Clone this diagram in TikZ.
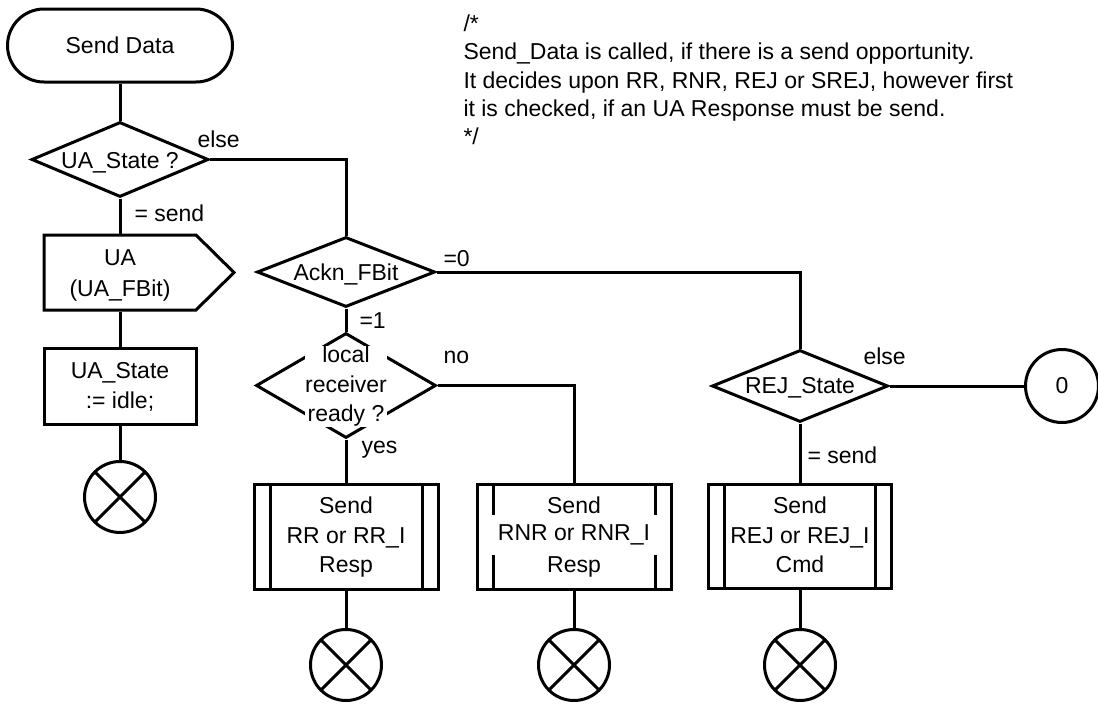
\documentclass[tikz,border=0pt]{standalone}
\usepackage{fontspec}
\setmainfont{Liberation Sans}
\usetikzlibrary{shapes.geometric,shapes.misc}
\begin{document}
\begin{tikzpicture}[x=1pt,y=-1pt,line width=3pt,
  every node/.style={font=\fontsize{23}{29.5}\selectfont},
  term/.style={rounded rectangle,draw,minimum width=225pt,minimum height=73pt,inner sep=0pt},
  dec/.style={diamond,draw,inner sep=0pt},
  proc/.style={rectangle,draw,inner sep=0pt},
  subr/.style={rectangle,draw,inner sep=0pt,
    path picture={\draw[line width=3pt]
      ([xshift=16pt]path picture bounding box.north west) -- ([xshift=16pt]path picture bounding box.south west)
      ([xshift=-16pt]path picture bounding box.north east) -- ([xshift=-16pt]path picture bounding box.south east);}},
  endc/.style={circle,draw,minimum size=71pt,inner sep=0pt,
    path picture={\draw[line width=3pt]
      (path picture bounding box.north west) -- (path picture bounding box.south east)
      (path picture bounding box.north east) -- (path picture bounding box.south west);}},
  conn/.style={circle,draw,minimum size=73pt,inner sep=0pt},
  txt/.style={inner sep=0pt,anchor=base},
  lbl/.style={inner sep=0pt,anchor=base west},
  cut/.style={fill=white,inner sep=0pt,align=center}
]
\useasboundingbox (0,0) rectangle (1098,704);

% start
\node[term] (start) at (120,45.5) {Send Data};

% UA_State decision
\node[dec,minimum width=177pt,minimum height=75pt] (d1) at (120,159.5) {};
\node[txt] (t1) at (120,168) {UA\_State ?};

% UA output signal
\node[minimum width=152pt,minimum height=75pt,inner sep=0pt] (ua) at (120,272.5) {};
\draw (44,235) -- (196,235) -- (234,272.5) -- (196,310) -- (44,310) -- cycle;
\node[txt] (t2) at (120,265) {UA};
\node[txt] (t3) at (120,296) {(UA\_FBit)};

% UA_State := idle
\node[proc,minimum width=152pt,minimum height=76pt] (b1) at (120,386) {};
\node[txt] (t4) at (120,378) {UA\_State};
\node[txt] (t5) at (120,408) {:= idle;};

\node[endc] (e1) at (120,497) {};

% Ackn_FBit decision
\node[dec,minimum width=178pt,minimum height=70pt] (d2) at (346,272) {};
\node[txt] (t6) at (346,280) {Ackn\_FBit};

% local receiver ready
\node[dec,minimum width=180pt,minimum height=105pt] (d3) at (346,385.5) {};
\node[cut] (t7) at (346,386.5) {local\\receiver\\ready ?};

% REJ_State decision
\node[dec,minimum width=176pt,minimum height=72pt] (d4) at (800,386) {};
\node[txt] (t8) at (800,393) {REJ\_State};

\node[conn] (c0) at (1062,386) {0};

% procedure calls
\node[subr,minimum width=184pt,minimum height=105pt] (rr) at (346,536.5) {};
\node[txt] (r1) at (346,513) {Send};
\node[txt] (r2) at (346,543) {RR or RR\_I};
\node[txt] (r3) at (346,572) {Resp};

\node[subr,minimum width=194pt,minimum height=105pt] (rnr) at (574,536.5) {};
\node[txt] (n1) at (574,513) {Send};
\node[fill=white,inner xsep=8pt,inner ysep=0pt,minimum height=40pt] (n2) at (574,535) {RNR or RNR\_I};
\node[txt] (n3) at (574,572) {Resp};

\node[subr,minimum width=183pt,minimum height=104pt] (rej) at (800,536) {};
\node[txt] (j1) at (800,513) {Send};
\node[txt] (j2) at (800,543) {REJ or REJ\_I};
\node[txt] (j3) at (800,572) {Cmd};

\node[endc] (e2) at (346,665) {};
\node[endc] (e3) at (574,665) {};
\node[endc] (e4) at (800,665) {};

% connectors
\draw (start.south) -- (d1.north);
\draw (d1.south) -- (ua.north);
\draw (ua.south) -- (b1.north);
\draw (b1.south) -- (e1.north);
\draw (d1.east) -| (d2.north);
\draw (d2.south) -- (d3.north);
\draw (d2.east) -| (d4.north);
\draw (d3.south) -- (rr.north);
\draw (d3.east) -| (rnr.north);
\draw (d4.east) -- (c0.west);
\draw (d4.south) -- (rej.north);
\draw (rr.south) -- (e2.north);
\draw (rnr.south) -- (e3.north);
\draw (rej.south) -- (e4.north);

% redraw local receiver text on top of connectors
\node[cut] at (346,386.5) {local\\receiver\\ready ?};

% connector labels
\node[lbl] (l1) at (196,147) {else};
\node[lbl] (l2) at (133,221) {= send};
\node[lbl] (l3) at (442,266) {=0};
\node[lbl] (l4) at (358,328) {=1};
\node[lbl] (l5) at (442,363) {no};
\node[lbl] (l6) at (360,453) {yes};
\node[lbl] (l7) at (862,364) {else};
\node[lbl] (l8) at (806,463) {= send};

% comment
\node[lbl] (k1) at (462,31) {/*};
\node[lbl] (k2) at (462,59) {Send\_Data is called, if there is a send opportunity.};
\node[lbl] (k3) at (462,88) {It decides upon RR, RNR, REJ or SREJ, however first};
\node[lbl] (k4) at (462,116) {it is checked, if an UA Response must be send.};
\node[lbl] (k5) at (462,144) {*/};
\end{tikzpicture}
\end{document}
